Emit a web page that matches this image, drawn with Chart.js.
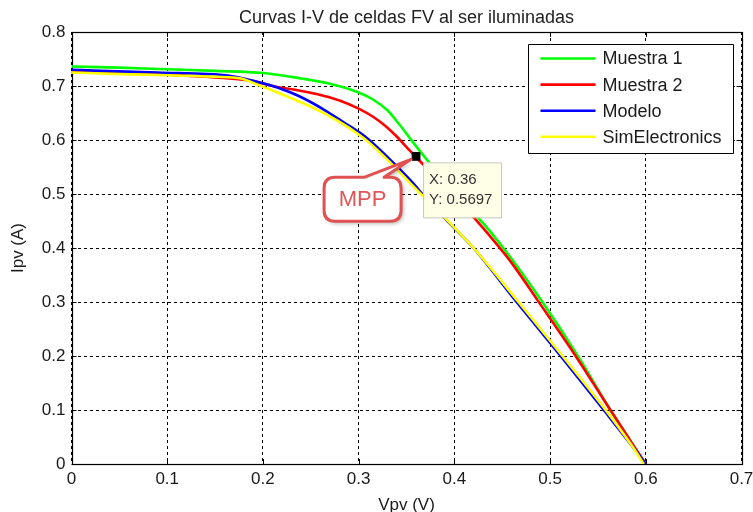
<!DOCTYPE html>
<html>
<head>
<meta charset="utf-8">
<script src="https://cdn.jsdelivr.net/npm/chart.js@4/dist/chart.umd.min.js"></script>
<style>
  html, body { margin: 0; padding: 0; background: #ffffff; }
  #c { display: block; }
</style>
</head>
<body>
<canvas id="c" width="753" height="512"></canvas>
<script>
// ---- Data ----
const titleText = 'Curvas I-V de celdas FV al ser iluminadas';
const xAxisLabel = 'Vpv (V)';
const yAxisLabel = 'Ipv (A)';
const seriesNames = ['Muestra 1', 'Muestra 2', 'Modelo', 'SimElectronics'];
const seriesColors = ['#00ff00', '#ff0000', '#0000ff', '#ffff00'];

const xTickValues = [0, 0.1, 0.2, 0.3, 0.4, 0.5, 0.6, 0.7];
const xTickLabels = ['0', '0.1', '0.2', '0.3', '0.4', '0.5', '0.6', '0.7'];
const yTickValues = [0, 0.1, 0.2, 0.3, 0.4, 0.5, 0.6, 0.7, 0.8];
const yTickLabels = ['0', '0.1', '0.2', '0.3', '0.4', '0.5', '0.6', '0.7', '0.8'];

// Muestra 1 (green)
const vMuestra1 = [0, 0.05, 0.10, 0.15, 0.20, 0.24, 0.27, 0.30, 0.315, 0.33, 0.342, 0.352, 0.362, 0.372, 0.385, 0.40, 0.415, 0.43, 0.452, 0.49, 0.529, 0.563, 0.585, 0.598];
const iMuestra1 = [0.736, 0.734, 0.731, 0.728, 0.724, 0.714, 0.704, 0.688, 0.675, 0.655, 0.630, 0.607, 0.584, 0.562, 0.535, 0.504, 0.474, 0.446, 0.398, 0.305, 0.200, 0.100, 0.040, 0.0];

// Muestra 2 (red)
const vMuestra2 = [0, 0.05, 0.10, 0.15, 0.19, 0.21, 0.23, 0.256, 0.28, 0.30, 0.315, 0.328, 0.34, 0.35, 0.36, 0.38, 0.40, 0.42, 0.44, 0.46, 0.487, 0.526, 0.563, 0.585, 0.600];
const iMuestra2 = [0.726, 0.724, 0.721, 0.716, 0.709, 0.700, 0.694, 0.685, 0.673, 0.658, 0.643, 0.626, 0.606, 0.587, 0.568, 0.533, 0.496, 0.457, 0.416, 0.372, 0.303, 0.202, 0.100, 0.040, 0.0];

// Modelo (blue)
const vModelo = [0, 0.03, 0.09, 0.165, 0.184, 0.20, 0.22, 0.238, 0.264, 0.285, 0.30, 0.311, 0.335, 0.358, 0.365, 0.39, 0.42, 0.465, 0.511, 0.556, 0.585, 0.600];
const iModelo = [0.730, 0.728, 0.725, 0.719, 0.712, 0.705, 0.694, 0.681, 0.656, 0.632, 0.615, 0.600, 0.560, 0.518, 0.503, 0.455, 0.400, 0.300, 0.200, 0.100, 0.035, 0.0];

// SimElectronics (yellow)
const vSim = [0, 0.05, 0.10, 0.15, 0.177, 0.184, 0.302, 0.365, 0.42, 0.467, 0.513, 0.558, 0.585, 0.598];
const iSim = [0.725, 0.722, 0.720, 0.717, 0.714, 0.710, 0.608, 0.500, 0.400, 0.300, 0.200, 0.100, 0.035, 0.0];

// Maximum power point marker
const mppV = 0.36;
const mppI = 0.5697;
const mppLabel = 'MPP';

// ---- Build chart ----
const FONT = "'Liberation Sans', Arial, Helvetica, sans-serif";
const toXY = (xs, ys) => xs.map((x, k) => ({ x: x, y: ys[k] }));

const seriesV = [vMuestra1, vMuestra2, vModelo, vSim];
const seriesI = [iMuestra1, iMuestra2, iModelo, iSim];
const seriesTension = [0.3, 0.3, 0.3, 0];

const datasets = seriesNames.map((name, k) => ({
  label: name,
  data: toXY(seriesV[k], seriesI[k]),
  borderColor: seriesColors[k],
  backgroundColor: seriesColors[k],
  borderWidth: 2.6,
  pointRadius: 0,
  fill: false,
  tension: seriesTension[k],
  cubicInterpolationMode: 'monotone',
  order: 4 - k
}));
datasets.push({
  label: '__mpp',
  data: [{ x: mppV, y: mppI }],
  showLine: false,
  pointStyle: 'rect',
  pointRadius: 5.5,
  pointBackgroundColor: '#000',
  pointBorderColor: '#000',
  order: 0
});

const decorPlugin = {
  id: 'decor',
  beforeDatasetsDraw(chart) {
    const { ctx, chartArea: a, scales: { x, y } } = chart;
    ctx.save();
    ctx.strokeStyle = '#000';
    ctx.lineWidth = 1;
    ctx.setLineDash([]);
    const tl = 5;
    xTickValues.forEach(v => {
      const px = Math.round(x.getPixelForValue(v)) + 0.5;
      ctx.beginPath();
      ctx.moveTo(px, a.bottom); ctx.lineTo(px, a.bottom - tl);
      ctx.moveTo(px, a.top); ctx.lineTo(px, a.top + tl);
      ctx.stroke();
    });
    yTickValues.forEach(v => {
      const py = Math.round(y.getPixelForValue(v)) + 0.5;
      ctx.beginPath();
      ctx.moveTo(a.left, py); ctx.lineTo(a.left + tl, py);
      ctx.moveTo(a.right, py); ctx.lineTo(a.right - tl, py);
      ctx.stroke();
    });
    ctx.lineWidth = 1.2;
    ctx.strokeRect(Math.round(a.left) + 0.5, Math.round(a.top) + 0.5,
                   Math.round(a.right) - Math.round(a.left), Math.round(a.bottom) - Math.round(a.top));
    ctx.restore();
  },
  afterDraw(chart) {
    const { ctx, chartArea: a, scales: { x, y } } = chart;
    const mx = x.getPixelForValue(mppV);
    const my = y.getPixelForValue(mppI);
    ctx.save();

    // data tip box
    const tx = mx + 7, ty = my + 6, tw = 78, th = 55;
    ctx.fillStyle = '#ffffe8';
    ctx.fillRect(tx, ty, tw, th);
    ctx.strokeStyle = '#c9c9bd';
    ctx.lineWidth = 1;
    ctx.strokeRect(tx + 0.5, ty + 0.5, tw, th);
    ctx.fillStyle = '#333';
    ctx.font = '15px ' + FONT;
    ctx.textAlign = 'left';
    ctx.textBaseline = 'middle';
    ctx.fillText('X: ' + mppV, mx + 13, my + 23);
    ctx.fillText('Y: ' + mppI, mx + 13, my + 43);

    // MPP callout
    const bx = mx - 92, by = my + 21, bw = 77, bh = 44, r = 11;
    ctx.beginPath();
    ctx.moveTo(bx + r, by);
    ctx.lineTo(mx - 52, by);
    ctx.lineTo(mx - 5, my + 3);
    ctx.lineTo(mx - 32, by);
    ctx.lineTo(bx + bw - r, by);
    ctx.quadraticCurveTo(bx + bw, by, bx + bw, by + r);
    ctx.lineTo(bx + bw, by + bh - r);
    ctx.quadraticCurveTo(bx + bw, by + bh, bx + bw - r, by + bh);
    ctx.lineTo(bx + r, by + bh);
    ctx.quadraticCurveTo(bx, by + bh, bx, by + bh - r);
    ctx.lineTo(bx, by + r);
    ctx.quadraticCurveTo(bx, by, bx + r, by);
    ctx.closePath();
    ctx.shadowColor = 'rgba(0,0,0,0.35)';
    ctx.shadowBlur = 4;
    ctx.shadowOffsetX = 2;
    ctx.shadowOffsetY = 2;
    ctx.fillStyle = '#ffffff';
    ctx.fill();
    ctx.shadowColor = 'transparent';
    ctx.strokeStyle = '#e05252';
    ctx.lineWidth = 3;
    ctx.lineJoin = 'round';
    ctx.stroke();
    ctx.fillStyle = '#e25555';
    ctx.font = '22px ' + FONT;
    ctx.textAlign = 'center';
    ctx.textBaseline = 'middle';
    ctx.fillText(mppLabel, bx + bw / 2, by + bh / 2 + 1);

    // Legend
    const lw = 205, lh = 109;
    const lx = Math.round(a.right - 213.5) + 0.5, ly = Math.round(a.top + 12) + 0.5;
    ctx.fillStyle = '#fff';
    ctx.fillRect(lx, ly, lw, lh);
    ctx.strokeStyle = '#000';
    ctx.lineWidth = 1;
    ctx.strokeRect(lx, ly, lw, lh);
    ctx.font = '18px ' + FONT;
    ctx.textAlign = 'left';
    ctx.textBaseline = 'middle';
    seriesNames.forEach((name, k) => {
      const ry = ly + 14 + k * 26.1;
      ctx.strokeStyle = seriesColors[k];
      ctx.lineWidth = 2.6;
      ctx.beginPath();
      ctx.moveTo(lx + 12, ry);
      ctx.lineTo(lx + 67, ry);
      ctx.stroke();
      ctx.fillStyle = '#1a1a1a';
      ctx.fillText(name, lx + 74, ry + 1);
    });
    ctx.restore();
  }
};

new Chart(document.getElementById('c'), {
  type: 'line',
  data: { datasets: datasets },
  options: {
    responsive: false,
    animation: false,
    events: [],
    layout: { padding: { left: 0, right: 11.5, top: 0, bottom: 0 } },
    plugins: {
      legend: { display: false },
      tooltip: { enabled: false },
      title: {
        display: true,
        fullSize: false,
        text: titleText,
        color: '#222',
        font: { family: FONT, size: 18, weight: 'normal' },
        padding: { top: 7.2, bottom: 3.2 }
      }
    },
    scales: {
      x: {
        type: 'linear',
        min: 0, max: 0.7,
        afterBuildTicks: s => { s.ticks = xTickValues.map(v => ({ value: v })); },
        afterFit: s => { s.height = 48; s.paddingLeft = 0; s.paddingRight = 0; },
        ticks: {
          color: '#1a1a1a',
          font: { family: FONT, size: 17 },
          padding: 5,
          maxRotation: 0,
          autoSkip: false,
          callback: (v, i) => xTickLabels[i]
        },
        grid: { color: '#000', lineWidth: 1, drawTicks: false },
        border: { display: false, dash: [3, 3] },
        title: {
          display: true, text: xAxisLabel, color: '#1a1a1a',
          font: { family: FONT, size: 17, lineHeight: 0.75 },
          padding: 0
        }
      },
      y: {
        type: 'linear',
        min: 0, max: 0.8,
        afterBuildTicks: s => { s.ticks = yTickValues.map(v => ({ value: v })); },
        afterFit: s => { s.width = 71.5; s.paddingTop = 0; s.paddingBottom = 0; },
        ticks: {
          color: '#1a1a1a',
          font: { family: FONT, size: 17 },
          padding: 6,
          autoSkip: false,
          callback: (v, i) => yTickLabels[i]
        },
        grid: { color: '#000', lineWidth: 1, drawTicks: false },
        border: { display: false, dash: [3, 3] },
        title: {
          display: true, text: yAxisLabel, color: '#1a1a1a',
          font: { family: FONT, size: 17 },
          padding: { top: 8, bottom: 0 }
        }
      }
    }
  },
  plugins: [decorPlugin]
});
</script>
</body>
</html>
